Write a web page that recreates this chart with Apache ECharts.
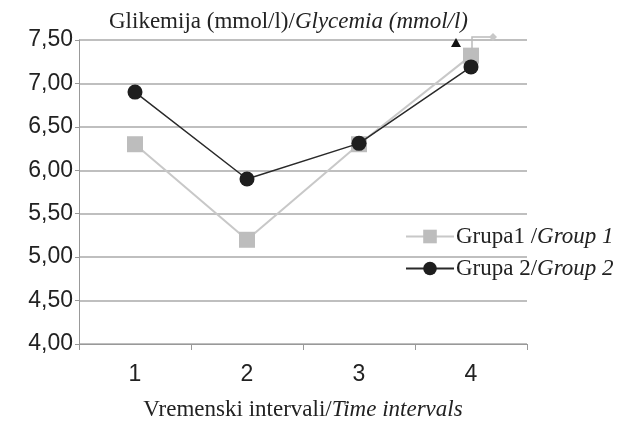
<!DOCTYPE html>
<html lang="en">
<head>
  <meta charset="UTF-8">
  <title>Glikemija</title>
  <script src="https://cdn.jsdelivr.net/npm/echarts@6.0.0/dist/echarts.min.js"></script>
</head>
<body style="margin:0">
  <div id="main" style="width: 635px; height: 423px;"></div>
  <script>
    // podaci
    var intervals = ['1', '2', '3', '4'];
    var grupa1 = [6.30, 5.20, 6.30, 7.32];
    var grupa2 = [6.90, 5.90, 6.31, 7.19];

    var serif = 'Liberation Serif';
    var sans = 'Liberation Sans';
    var serifRich = {
      a: { fontFamily: serif, fontSize: 23, color: '#222', fontWeight: 'normal' },
      b: { fontFamily: serif, fontSize: 23, color: '#222', fontWeight: 'normal', fontStyle: 'italic' }
    };

    var myChart = echarts.init(document.getElementById('main'));

    var option = {
      backgroundColor: '#fff',
      animation: false,
      title: {
        text: '{a|Glikemija (mmol/l)/}{b|Glycemia (mmol/l)}',
        left: 104,
        top: 5,
        textStyle: { fontWeight: 'normal', rich: serifRich }
      },
      grid: { left: 79, right: 108, top: 40, bottom: 79, outerBoundsMode: 'none' },
      legend: {
        orient: 'vertical',
        left: 400,
        top: 220,
        itemWidth: 48,
        itemHeight: 17,
        itemGap: 9,
        data: ['Grupa1', 'Grupa2'],
        formatter: function (name) {
          return name === 'Grupa1'
            ? '{a|Grupa1 /}{b|Group 1}'
            : '{a|Grupa 2/}{b|Group 2}';
        },
        textStyle: { padding: [0, 0, 0, -3], rich: serifRich }
      },
      xAxis: {
        type: 'category',
        data: intervals,
        boundaryGap: true,
        name: '{a|Vremenski intervali/}{b|Time intervals}',
        nameLocation: 'middle',
        nameGap: 54,
        nameTextStyle: { rich: serifRich },
        axisLine: { lineStyle: { color: '#999', width: 1 } },
        axisTick: { show: true, length: 6, lineStyle: { color: '#999' } },
        axisLabel: { fontFamily: sans, fontSize: 23, color: '#222', margin: 19 }
      },
      yAxis: {
        type: 'value',
        min: 4,
        max: 7.5,
        interval: 0.5,
        axisLine: { show: true, lineStyle: { color: '#999', width: 1 } },
        axisTick: { show: true, length: 4, lineStyle: { color: '#999' } },
        axisLabel: {
          fontFamily: sans, fontSize: 23, color: '#222', margin: 6,
          formatter: function (v) { return v.toFixed(2).replace('.', ','); }
        },
        splitLine: { lineStyle: { color: '#aaa', width: 1.5 } }
      },
      graphic: [
        { type: 'polygon', shape: { points: [[456, 38], [451, 47], [461, 47]] }, style: { fill: '#111' }, z: 10 },
        { type: 'polyline', shape: { points: [[472, 50], [472, 37], [490, 37]] }, style: { stroke: '#bbb', lineWidth: 1.5, fill: null }, z: 10 },
        { type: 'polygon', shape: { points: [[493, 33], [497, 37], [493, 41], [489, 37]] }, style: { fill: '#c8c8c8' }, z: 10 }
      ],
      series: [
        {
          name: 'Grupa1',
          type: 'line',
          data: grupa1,
          symbol: 'rect',
          symbolSize: 16,
          z: 2,
          lineStyle: { color: '#c8c8c8', width: 2 },
          itemStyle: { color: '#bdbdbd' }
        },
        {
          name: 'Grupa2',
          type: 'line',
          data: grupa2,
          symbol: 'circle',
          symbolSize: 15,
          z: 3,
          lineStyle: { color: '#2a2a2a', width: 1.5 },
          itemStyle: { color: '#1e1e1e' }
        }
      ]
    };

    myChart.setOption(option);
  </script>
</body>
</html>
